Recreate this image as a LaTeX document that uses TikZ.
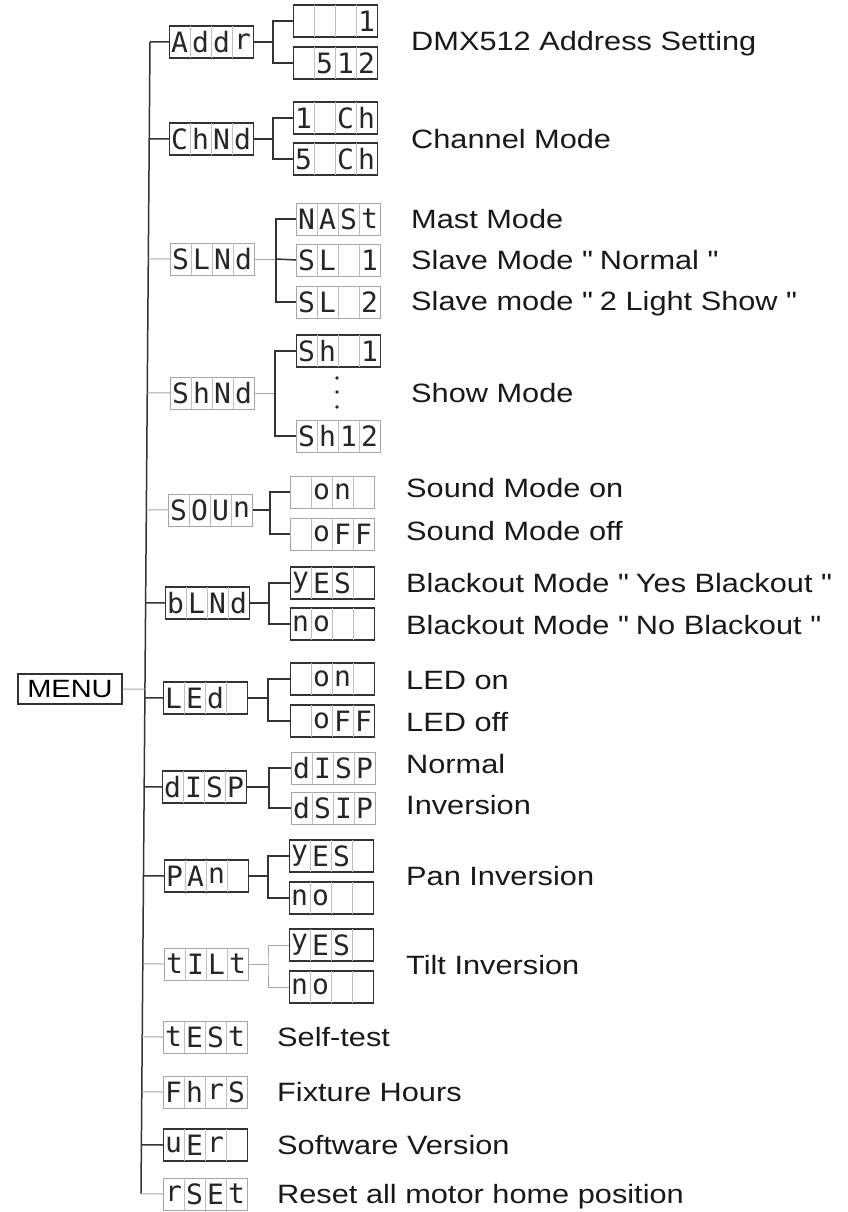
\documentclass[tikz,border=0pt]{standalone}
\usepackage{fontspec}
\setmainfont{Liberation Sans}[FakeStretch=1.16]
\newfontfamily\segfont{DejaVu Sans Mono}
\usetikzlibrary{calc}
\tikzset{
  segbox/.style={rectangle, minimum width=84pt, minimum height=32pt, inner sep=0pt},
  dk/.style={draw=black!80, line width=1.4pt},
  lt/.style={draw=black!35, line width=1pt},
  divider/.style={draw=black!25, line width=0.7pt},
  segchar/.style={font=\segfont\fontsize{28}{28}\selectfont, inner sep=0pt, text=black!85},
  lbl/.style={anchor=base west, font=\fontsize{26.5}{26.5}\selectfont, inner sep=0pt, text=black!90},
  cdk/.style={draw=black!80, line width=1.5pt},
  clt/.style={draw=black!35, line width=1pt},
}
\newcommand\qq{\textquotedbl}
\newcommand\segc[3]{\if\relax\detokenize{#3}\relax\else\node[segchar] (#1c#2) at ($(#1.west)+(#2*21-10.5,0)$) {#3};\fi}
\newcommand\segdisp[7]{%
  \node[segbox,#3,anchor=west] (#1) at #2 {};
  \foreach \k in {1,2,3}{\draw[divider] ($(#1.north west)+(\k*21,0.8)$) -- ($(#1.south west)+(\k*21,-0.8)$);}
  \segc{#1}{1}{#4}\segc{#1}{2}{#5}\segc{#1}{3}{#6}\segc{#1}{4}{#7}%
}
\begin{document}
\begin{tikzpicture}[x=1pt,y=-1pt]
\useasboundingbox (0,0) rectangle (848,1212);
% trunk
\coordinate (tTop) at (150,42);
\coordinate (tBot) at (141,1194);
\draw[cdk] (tTop) -- (tBot);
% menu
\node[draw=black!80, line width=1.4pt, minimum width=104pt, minimum height=30pt, inner sep=0pt, font=\fontsize{25}{25}\selectfont] (menu) at (70,689) {MENU};
\draw[clt] (menu.east) -- ($(tTop)!(menu.east)!(tBot)$);
% main boxes
\segdisp{Addr}{(169,42)}{dk}{A}{d}{d}{r}
\segdisp{ChNd}{(169,139)}{dk}{C}{h}{N}{d}
\segdisp{SLNd}{(170,259)}{lt}{S}{L}{N}{d}
\segdisp{ShNd}{(170,393)}{lt}{S}{h}{N}{d}
\segdisp{SOUn}{(168,510)}{lt}{S}{O}{U}{n}
\segdisp{bLNd}{(165,603)}{dk}{b}{L}{N}{d}
\segdisp{LEd}{(163,698)}{dk}{L}{E}{d}{}
\segdisp{dISP}{(162,787)}{dk}{d}{I}{S}{P}
\segdisp{PAn}{(164,876)}{dk}{P}{A}{n}{}
\segdisp{tILt}{(164,964)}{lt}{t}{I}{L}{t}
\segdisp{tESt}{(163,1037)}{lt}{t}{E}{S}{t}
\segdisp{FhrS}{(163,1092)}{lt}{F}{h}{r}{S}
\segdisp{uEr}{(163,1145)}{dk}{u}{E}{r}{}
\segdisp{rSEt}{(163,1194)}{lt}{r}{S}{E}{t}
% trunk connectors
\foreach \n/\s in {Addr/cdk,ChNd/cdk,SLNd/clt,ShNd/clt,SOUn/clt,bLNd/cdk,LEd/cdk,dISP/cdk,PAn/cdk,tILt/clt,tESt/clt,FhrS/clt,uEr/cdk,rSEt/clt}
  \draw[\s] (\n.west) -- ($(tTop)!(\n.west)!(tBot)$);
% children
\segdisp{a1}{(293,21)}{dk}{}{}{}{1}
\segdisp{a2}{(293,63)}{dk}{}{5}{1}{2}
\segdisp{c1}{(293,118)}{dk}{1}{}{C}{h}
\segdisp{c2}{(293,159)}{dk}{5}{}{C}{h}
\segdisp{s1}{(296,219)}{lt}{N}{A}{S}{t}
\segdisp{s2}{(296,260)}{lt}{S}{L}{}{1}
\segdisp{s3}{(296,302)}{lt}{S}{L}{}{2}
\segdisp{h1}{(296,351)}{dk}{S}{h}{}{1}
\segdisp{h2}{(296,436)}{lt}{S}{h}{1}{2}
\segdisp{o1}{(290,492)}{lt}{}{o}{n}{}
\segdisp{o2}{(290,534)}{lt}{}{o}{F}{F}
\segdisp{b1}{(290,583)}{dk}{y}{E}{S}{}
\segdisp{b2}{(290,624)}{dk}{n}{o}{}{}
\segdisp{l1}{(290,679)}{dk}{}{o}{n}{}
\segdisp{l2}{(290,721)}{dk}{}{o}{F}{F}
\segdisp{d1}{(291,768)}{lt}{d}{I}{S}{P}
\segdisp{d2}{(291,808)}{lt}{d}{S}{I}{P}
\segdisp{p1}{(289,856)}{dk}{y}{E}{S}{}
\segdisp{p2}{(289,898)}{dk}{n}{o}{}{}
\segdisp{t1}{(289,945)}{dk}{y}{E}{S}{}
\segdisp{t2}{(289,987)}{dk}{n}{o}{}{}
% branch junctions
\coordinate (jA) at (273,42);
\coordinate (jC) at (273,139);
\coordinate (jS) at (276,259);
\coordinate (jH) at (275,393);
\coordinate (jO) at (270,510);
\coordinate (jB) at (269,603);
\coordinate (jL) at (268,698);
\coordinate (jD) at (269,787);
\coordinate (jP) at (268,876);
\coordinate (jT) at (268,964);
\draw[cdk] (Addr.east) -- (jA); \draw[cdk] (a1.west) -| (jA) |- (a2.west);
\draw[cdk] (ChNd.east) -- (jC); \draw[cdk] (c1.west) -| (jC) |- (c2.west);
\draw[clt] (SLNd.east) -- (jS); \draw[cdk] (s1.west) -| (jS) |- (s3.west); \draw[cdk] (jS) -- (s2.west);
\draw[clt] (ShNd.east) -- (jH); \draw[cdk] (h1.west) -| (jH) |- (h2.west);
\draw[cdk] (SOUn.east) -- (jO); \draw[cdk] (o1.west) -| (jO) |- (o2.west);
\draw[cdk] (bLNd.east) -- (jB); \draw[cdk] (b1.west) -| (jB) |- (b2.west);
\draw[cdk] (LEd.east) -- (jL); \draw[cdk] (l1.west) -| (jL) |- (l2.west);
\draw[cdk] (dISP.east) -- (jD); \draw[cdk] (d1.west) -| (jD) |- (d2.west);
\draw[cdk] (PAn.east) -- (jP); \draw[cdk] (p1.west) -| (jP) |- (p2.west);
\draw[clt] (tILt.east) -- (jT); \draw[clt] (t1.west) -| (jT) |- (t2.west);
% dots
\foreach \yy in {378,392,407} \fill[black!85] (337,\yy) circle (1.8pt);
% labels
\node[lbl] (L1) at (411,51) {DMX512 Address Setting};
\node[lbl] (L2) at (411,148) {Channel Mode};
\node[lbl] (L3) at (411,228) {Mast Mode};
\node[lbl] (L4) at (411,269) {Slave Mode \qq{} Normal \qq};
\node[lbl] (L5) at (411,310) {Slave mode \qq{} 2 Light Show \qq};
\node[lbl] (L6) at (411,402) {Show Mode};
\node[lbl] (L7) at (406,497) {Sound Mode on};
\node[lbl] (L8) at (406,540) {Sound Mode off};
\node[lbl] (L9) at (406,592) {Blackout Mode \qq{} Yes Blackout \qq};
\node[lbl] (L10) at (406,634) {Blackout Mode \qq{} No Blackout \qq};
\node[lbl] (L11) at (406,689) {LED on};
\node[lbl] (L12) at (406,731) {LED off};
\node[lbl] (L13) at (406,773) {Normal};
\node[lbl] (L14) at (406,814) {Inversion};
\node[lbl] (L15) at (406,885) {Pan Inversion};
\node[lbl] (L16) at (406,974) {Tilt Inversion};
\node[lbl] (L17) at (277,1046) {Self-test};
\node[lbl] (L18) at (277,1101) {Fixture Hours};
\node[lbl] (L19) at (277,1154) {Software Version};
\node[lbl] (L20) at (277,1203) {Reset all motor home position};
\end{tikzpicture}
\end{document}
